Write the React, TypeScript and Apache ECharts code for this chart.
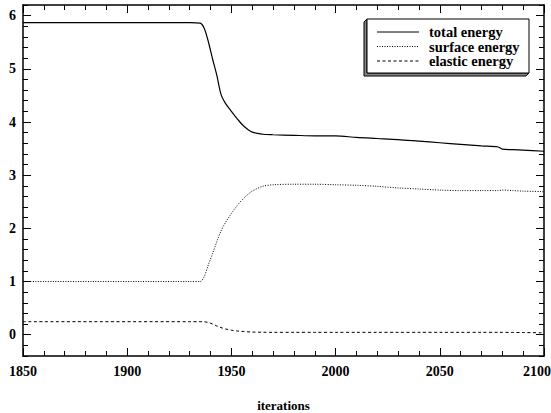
import React, { useEffect, useRef } from "react";
import * as echarts from "echarts";

const years = [1850, 1930, 1935, 1937, 1939, 1941, 1943, 1945, 1947, 1950, 1953, 1956, 1960, 1965, 1970, 1980, 1990, 2000, 2010, 2020, 2030, 2040, 2050, 2060, 2070, 2078, 2080, 2085, 2090, 2100];
const totalEnergy = [5.87, 5.87, 5.86, 5.76, 5.5, 5.18, 4.88, 4.52, 4.36, 4.2, 4.05, 3.92, 3.81, 3.77, 3.76, 3.75, 3.74, 3.74, 3.71, 3.69, 3.67, 3.64, 3.61, 3.58, 3.55, 3.53, 3.49, 3.48, 3.47, 3.45];
const surfaceEnergy = [1.0, 1.0, 1.0, 1.1, 1.32, 1.53, 1.75, 1.95, 2.1, 2.28, 2.44, 2.57, 2.7, 2.79, 2.82, 2.83, 2.83, 2.82, 2.81, 2.79, 2.76, 2.74, 2.72, 2.71, 2.71, 2.71, 2.72, 2.71, 2.7, 2.69];
const elasticEnergy = [0.245, 0.245, 0.245, 0.243, 0.23, 0.2, 0.165, 0.135, 0.11, 0.085, 0.07, 0.06, 0.05, 0.047, 0.045, 0.045, 0.045, 0.045, 0.045, 0.045, 0.045, 0.045, 0.045, 0.045, 0.045, 0.045, 0.045, 0.043, 0.042, 0.035];
const seriesNames = ["total energy", "surface energy", "elastic energy"];
const yTickValues = [0, 1, 2, 3, 4, 5, 6];

const FONT = "'Liberation Serif', 'DejaVu Serif', serif";
const DASHES: (string | number[])[] = ["solid", [1, 1.5], [3, 2.5]];

export default function App() {
  const ref = useRef<HTMLDivElement>(null);
  useEffect(() => {
    if (!ref.current) return;
    const chart = echarts.init(ref.current, null, { renderer: "svg" });
    const pair = (vals: number[]) => years.map((y, i) => [y, vals[i]]);
    const lineStyle = { color: "#000", width: 1 };
    const xCommon = {
      type: "value" as const,
      min: 1850,
      max: 2100,
      interval: 50,
      splitLine: { show: false },
      axisLine: { show: true, onZero: false, lineStyle: { color: "#000", width: 1.5 } },
      axisTick: { show: true, inside: true, length: 8, lineStyle },
      minorTick: { show: true, splitNumber: 5, length: 5, lineStyle },
    };
    const yMinor = {
      type: "value" as const,
      min: -0.4,
      max: 6.2,
      interval: 0.2,
      splitLine: { show: false },
      axisLine: { show: true, onZero: false, lineStyle: { color: "#000", width: 1.5 } },
      axisTick: { show: true, inside: true, length: 5, lineStyle },
      axisLabel: { show: false },
    };
    const yMajor = {
      type: "value" as const,
      min: -0.4,
      max: 6.2,
      splitLine: { show: false },
      axisLine: { show: false, onZero: false },
      axisTick: { show: true, inside: true, length: 8, lineStyle, customValues: yTickValues },
    };
    const legendItems: any[] = [];
    seriesNames.forEach((name, i) => {
      const y = 32 + i * 14.5;
      legendItems.push({
        type: "line",
        z: 11,
        shape: { x1: 377, y1: y, x2: 419, y2: y },
        style: { stroke: "#000", lineWidth: 1, lineDash: DASHES[i] === "solid" ? null : DASHES[i] },
      });
      legendItems.push({
        type: "text",
        z: 11,
        x: 429,
        y: y,
        style: {
          text: name,
          fill: "#000",
          font: `bold 14.5px ${FONT}`,
          verticalAlign: "middle",
        },
      });
    });
    const labelFont = { fontFamily: FONT, fontWeight: "bold" as const, fontSize: 14, color: "#000" };
    chart.setOption({
      animation: false,
      backgroundColor: "#fff",
      grid: { left: 23, right: 7, top: 5, bottom: 57, outerBoundsMode: "none", containLabel: false },
      xAxis: [
        {
          ...xCommon,
          position: "bottom",
          name: "iterations",
          nameLocation: "middle",
          nameGap: 43,
          nameTextStyle: { fontFamily: FONT, fontWeight: "bold", fontSize: 13, color: "#000" },
          axisLabel: {
            ...labelFont,
            margin: 8,
            formatter: (v: number) => (v === 2100 ? `{last|${v}}` : String(v)),
            rich: { last: { ...labelFont, padding: [0, 14, 0, 0] } },
          },
        },
        { ...xCommon, position: "top", axisLabel: { show: false } },
      ],
      yAxis: [
        {
          ...yMajor,
          position: "left",
          axisLabel: {
            ...labelFont,
            margin: 7,
            customValues: yTickValues,
            formatter: (v: number) => String(Math.round(v)),
          },
        },
        { ...yMinor, position: "left" },
        { ...yMinor, position: "right" },
        { ...yMajor, position: "right", axisLabel: { show: false } },
      ],
      graphic: [
        {
          type: "polygon",
          z: 9,
          shape: { points: [[367, 19], [364, 22], [364, 76], [526, 76], [529, 73], [367, 73]] },
          style: { fill: "#888", stroke: "#000", lineWidth: 1 },
        },
        {
          type: "rect",
          z: 10,
          shape: { x: 367, y: 19, width: 162, height: 54 },
          style: { fill: "#fff", stroke: "#000", lineWidth: 1 },
        },
        ...legendItems,
      ],
      series: [
        {
          name: seriesNames[0],
          type: "line",
          data: pair(totalEnergy),
          symbol: "none",
          smooth: 0.3,
          lineStyle: { color: "#000", width: 1.2, type: "solid" },
        },
        {
          name: seriesNames[1],
          type: "line",
          data: pair(surfaceEnergy),
          symbol: "none",
          smooth: 0.3,
          lineStyle: { color: "#000", width: 1, type: DASHES[1] },
        },
        {
          name: seriesNames[2],
          type: "line",
          data: pair(elasticEnergy),
          symbol: "none",
          smooth: 0.3,
          lineStyle: { color: "#000", width: 1, type: DASHES[2] },
        },
      ],
    });
    return () => chart.dispose();
  }, []);
  return <div ref={ref} style={{ width: 551, height: 413, position: "absolute", left: 0, top: 0 }} />;
}
